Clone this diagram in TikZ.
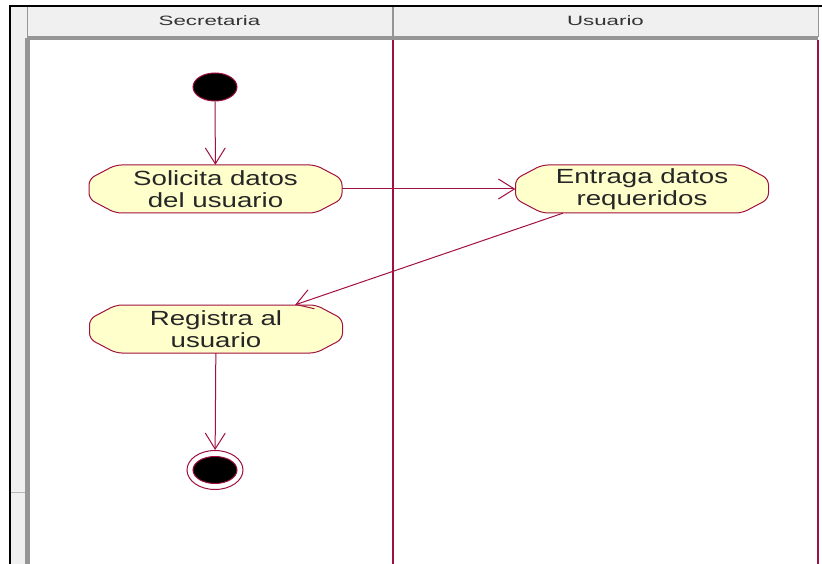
\documentclass[tikz,border=0pt]{standalone}
\usepackage{fontspec}
\setmainfont{Liberation Sans}
\newfontfamily\labfont[FakeStretch=1.35]{Liberation Sans}
\newfontfamily\headfont[FakeStretch=1.65]{Liberation Sans}
\usetikzlibrary{arrows.meta,shapes.geometric}
\definecolor{maroon}{RGB}{160,16,64}
\definecolor{actfill}{RGB}{255,255,204}
\definecolor{panel}{RGB}{240,240,240}
\definecolor{edge}{RGB}{150,150,150}
\tikzset{
  actshape/.style={draw=maroon, fill=actfill, line width=1pt, rounded corners=6pt},
  activity/.style={rectangle, minimum width=253pt, minimum height=48pt,
    inner sep=0pt, align=center, font=\labfont\fontsize{20.5}{22}\selectfont, text=black!85},
  flow/.style={draw=maroon, line width=1pt, -{Straight Barb[length=16pt,width=20pt,line width=1pt]}},
  lane/.style={draw=maroon, line width=1.6pt},
  headcell/.style={draw=edge, fill=panel, line width=1pt},
  headtext/.style={font=\headfont\fontsize{13.5}{15}\selectfont, text=black!80}
}
\newcommand{\actoutline}[2]{%
  \draw[actshape] (#1-100,#2-24) -- (#1+100,#2-24) -- (#1+126.5,#2-10) -- (#1+126.5,#2+10)
    -- (#1+100,#2+24) -- (#1-100,#2+24) -- (#1-126.5,#2+10) -- (#1-126.5,#2-10) -- cycle;}
\begin{document}
\begin{tikzpicture}[x=1pt,y=-1pt]
\useasboundingbox (0,0) rectangle (822,564);
\fill[white] (0,0) rectangle (822,564);
% left panel column
\fill[panel] (10,6) rectangle (27,564);
\fill[edge] (25,38) rectangle (30,564);
\draw[edge!70, line width=1pt] (11,492) -- (25,492);
% header
\draw[headcell] (27,7) rectangle (392,37);
\draw[headcell] (393,7) rectangle (818,37);
\fill[edge] (27,36) rectangle (818,40);
\node[headtext] (h1) at (209.5,21) {Secretaria};
\node[headtext] (h2) at (605.5,21) {Usuario};
% outer border
\draw[black, line width=1.5pt] (10,564) -- (10,6) -- (822,6);
% lanes
\draw[lane] (392.7,40) -- (392.7,564);
\draw[lane] (817.7,40) -- (817.7,564);
% start
\node[ellipse, draw=maroon, fill=black, line width=1pt, minimum width=44pt, minimum height=28pt, inner sep=0pt] (start) at (215,87) {};
% activities
\actoutline{215.5}{189}
\actoutline{642}{189}
\actoutline{216}{329}
\node[activity] (sol) at (215.5,189) {Solicita datos\\del usuario};
\node[activity] (ent) at (642,189) {Entraga datos\\requeridos};
\node[activity] (reg) at (216,329) {Registra al\\usuario};
% end
\node[ellipse, draw=maroon, fill=white, line width=1pt, minimum width=56pt, minimum height=39pt, inner sep=0pt] (fin) at (215,470) {};
\node[ellipse, draw=maroon, fill=black, line width=1pt, minimum width=44pt, minimum height=27pt, inner sep=0pt] (finin) at (215,470) {};
% flows
\draw[flow] (start) -- (sol);
\draw[flow] (sol) -- (ent);
\draw[flow] (ent.197) -- (reg.17.5);
\draw[flow] (reg) -- (fin);
\end{tikzpicture}
\end{document}
